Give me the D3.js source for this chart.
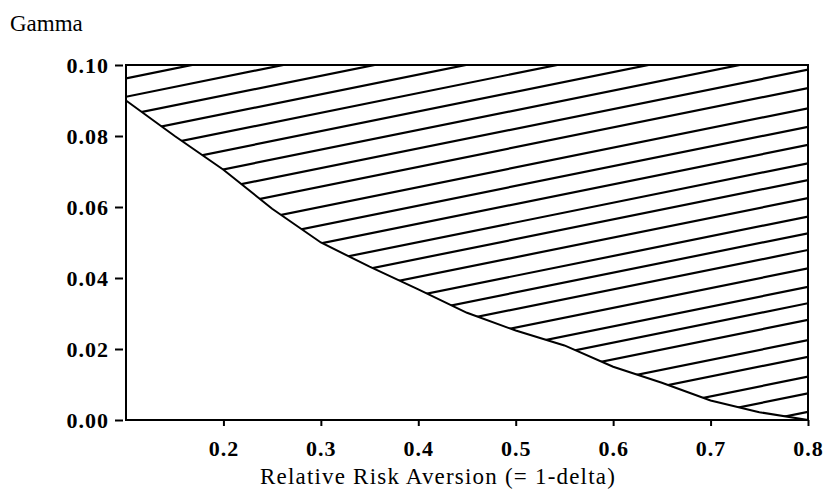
<!DOCTYPE html>
<html>
<head>
<meta charset="utf-8">
<script src="https://cdn.jsdelivr.net/npm/d3@7"></script>
<style>
  body { margin: 0; background: #fff; }
  svg { display: block; }
  text { font-family: "Liberation Serif", "Times New Roman", serif; fill: #000; }
</style>
</head>
<body>
<svg id="chart" width="830" height="504"></svg>
<script>
// boundary curve: gamma against relative risk aversion
const riskAversion = [0.10, 0.15, 0.20, 0.25, 0.30, 0.35, 0.40, 0.45, 0.50, 0.55, 0.60, 0.65, 0.70, 0.75, 0.80];
const gammaBound   = [0.090, 0.080, 0.0705, 0.0595, 0.0500, 0.0432, 0.0368, 0.0302, 0.0252, 0.0210, 0.0150, 0.0105, 0.0055, 0.0022, 0.0000];

// hatch lines: gamma where each line meets x = 0.8 (extended past the top for the upper ones)
const hatchAtRight = [0.0023, 0.0075, 0.0122, 0.0178, 0.0225, 0.0282, 0.0329, 0.0375, 0.0427, 0.0479,
                      0.0526, 0.0573, 0.0625, 0.0676, 0.0723, 0.0775, 0.0826, 0.0878, 0.0935, 0.0987,
                      0.1039, 0.1091, 0.1143, 0.1195, 0.1247, 0.1299, 0.1351];
const hatchSlope = 0.0555;

const xTicks = [0.2, 0.3, 0.4, 0.5, 0.6, 0.7, 0.8];
const yTicks = [0.00, 0.02, 0.04, 0.06, 0.08, 0.10];

const margin = {left: 126, right: 22, top: 65, bottom: 84};
const width = 830 - margin.left - margin.right;
const height = 504 - margin.top - margin.bottom;

const svg = d3.select('#chart');
const g = svg.append('g').attr('transform', 'translate(' + margin.left + ',' + margin.top + ')');

const x = d3.scaleLinear().domain([0.1, 0.8]).range([0, width]);
const y = d3.scaleLinear().domain([0, 0.1]).range([height, 0]);

const pts = riskAversion.map((v, i) => ({x: v, y: gammaBound[i]}));

// region above the curve, used to clip the hatching
const region = d3.area()
  .x(d => x(d.x))
  .y0(d => y(d.y))
  .y1(y(0.1));

g.append('clipPath').attr('id', 'above')
  .append('path')
  .attr('d', region(pts));

g.append('g')
  .attr('clip-path', 'url(#above)')
  .selectAll('line')
  .data(hatchAtRight)
  .enter().append('line')
  .attr('x1', x(0.1))
  .attr('y1', d => y(d - hatchSlope * 0.7))
  .attr('x2', x(0.8))
  .attr('y2', d => y(d))
  .style('stroke', '#000')
  .style('stroke-width', 2.2);

const line = d3.line().x(d => x(d.x)).y(d => y(d.y));
g.append('path')
  .attr('d', line(pts))
  .style('fill', 'none')
  .style('stroke', '#000')
  .style('stroke-width', 2);

// frame
g.append('rect')
  .attr('x', 0).attr('y', 0)
  .attr('width', width).attr('height', height)
  .style('fill', 'none')
  .style('stroke', '#000')
  .style('stroke-width', 2);

// y axis
const yAxis = d3.axisLeft(y)
  .tickValues(yTicks)
  .tickFormat(d3.format('.2f'))
  .tickSize(8)
  .tickPadding(6);
const ya = g.append('g').attr('transform', 'translate(-3,0)').call(yAxis);
ya.select('.domain').remove();
ya.selectAll('.tick line').style('stroke', '#000').style('stroke-width', 2);
ya.selectAll('.tick text')
  .style('font-size', '22px')
  .style('font-weight', 'bold')
  .style('letter-spacing', '1px')
  .attr('dy', '0.36em');

// x axis
const xAxis = d3.axisBottom(x)
  .tickValues(xTicks)
  .tickFormat(d3.format('.1f'))
  .tickSize(6)
  .tickPadding(14);
const xa = g.append('g').attr('transform', 'translate(0,' + height + ')').call(xAxis);
xa.select('.domain').remove();
xa.selectAll('.tick line').style('stroke', '#000').style('stroke-width', 2);
xa.selectAll('.tick text')
  .style('font-size', '22px')
  .style('font-weight', 'bold')
  .style('letter-spacing', '1px');

svg.append('text')
  .attr('x', 10)
  .attr('y', 31)
  .style('font-size', '23px')
  .text('Gamma');

svg.append('text')
  .attr('x', 438)
  .attr('y', 484)
  .attr('text-anchor', 'middle')
  .style('font-size', '23px')
  .style('letter-spacing', '1.2px')
  .text('Relative Risk Aversion (= 1-delta)');
</script>
</body>
</html>
